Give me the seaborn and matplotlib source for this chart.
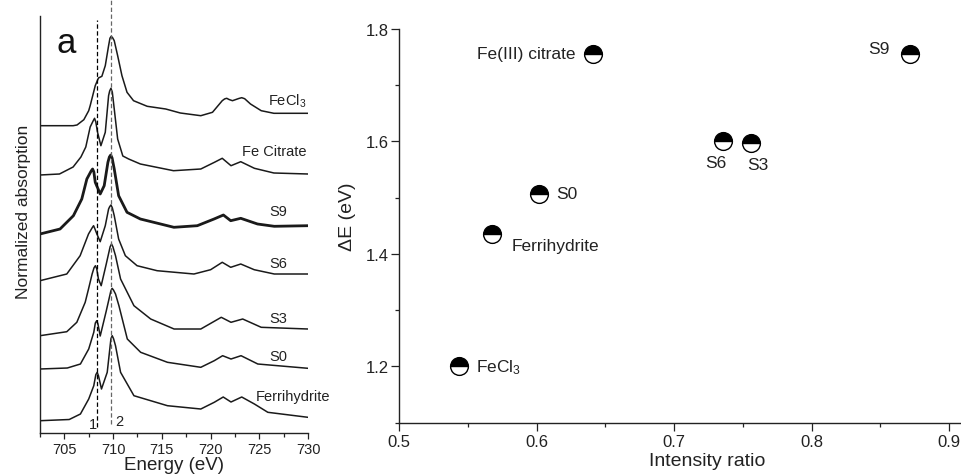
import numpy as np
import pandas as pd
import matplotlib
matplotlib.use('Agg')
import matplotlib.pyplot as plt
from matplotlib.ticker import MultipleLocator, FormatStrFormatter
import seaborn as sns

# ---------------------------------------------------------------------------
# Data
# ---------------------------------------------------------------------------

# panel a: XANES spectra (energy in eV, absorption above the pre-edge level, a.u.)
fecl3_e = [702.5, 705.9, 706.3, 707.0, 707.5, 707.65, 708.17, 708.5, 708.85, 709.2, 709.54,
           709.68, 709.81, 709.95, 710.12, 710.47, 710.91, 711.43, 712.1, 713.5, 715.4,
           716.9, 719.0, 720.2, 721.2, 721.45, 721.66, 721.9, 722.25, 722.9, 723.2,
           723.5, 724.1, 725.2, 726.5, 730.0]
fecl3_a = [0.0, 0.0, 0.007, 0.06, 0.15, 0.20, 0.40, 0.477, 0.494, 0.60, 0.80,
           0.875, 0.894, 0.88, 0.85, 0.70, 0.50, 0.334, 0.25, 0.194, 0.167,
           0.127, 0.10, 0.134, 0.25, 0.268, 0.274, 0.262, 0.25, 0.272, 0.28,
           0.27, 0.217, 0.15, 0.124, 0.124]

citrate_e = [702.5, 704.5, 705.9, 706.7, 707.2, 707.65, 707.95, 708.1, 708.23, 708.4, 708.75,
             709.2, 709.54, 709.65, 709.78, 709.92, 710.12, 710.47, 711.0, 711.6, 712.8,
             716.2, 719.0, 720.4, 721.2, 722.1, 723.1, 724.5, 726.5, 730.0]
citrate_a = [0.0, 0.01, 0.08, 0.18, 0.28, 0.48, 0.54, 0.567, 0.53, 0.43, 0.293,
             0.427, 0.793, 0.84, 0.867, 0.83, 0.66, 0.36, 0.19, 0.16, 0.11,
             0.043, 0.06, 0.127, 0.167, 0.093, 0.133, 0.067, 0.02, 0.01]

s9_e = [702.5, 704.56, 705.93, 706.79, 707.31, 707.75, 707.9, 708.03, 708.17, 708.68, 709.09,
        709.47, 709.62, 709.76, 709.9, 710.12, 710.57, 711.43, 712.8, 716.24, 718.64,
        720.36, 721.32, 722.07, 723.1, 724.82, 726.54, 730.0]
s9_a = [0.0, 0.05, 0.183, 0.35, 0.55, 0.63, 0.65, 0.62, 0.517, 0.40, 0.483,
        0.717, 0.77, 0.79, 0.76, 0.65, 0.383, 0.217, 0.15, 0.067, 0.083,
        0.15, 0.19, 0.133, 0.157, 0.10, 0.077, 0.083]

s6_e = [702.5, 705.25, 706.62, 707.48, 707.86, 708.0, 708.13, 708.34, 708.68, 709.2, 709.54,
        709.65, 709.78, 709.92, 710.12, 710.57, 711.26, 712.46, 714.52, 718.3, 720.01,
        721.2, 722.07, 723.1, 724.48, 726.54, 730.0]
s6_a = [0.0, 0.067, 0.25, 0.467, 0.53, 0.55, 0.52, 0.467, 0.39, 0.55, 0.717,
        0.74, 0.757, 0.73, 0.65, 0.417, 0.25, 0.15, 0.10, 0.067, 0.11,
        0.184, 0.134, 0.167, 0.11, 0.067, 0.067]

s3_e = [702.5, 705.25, 706.28, 707.14, 707.48, 707.85, 708.05, 708.19, 708.32, 708.5, 708.78,
        709.3, 709.7, 709.84, 709.98, 710.25, 710.77, 712.14, 713.86, 716.26, 719.0,
        721.1, 722.1, 723.3, 725.2, 730.0]
s3_a = [0.0, 0.04, 0.134, 0.334, 0.467, 0.617, 0.68, 0.70, 0.67, 0.567, 0.50,
        0.717, 0.89, 0.917, 0.89, 0.80, 0.567, 0.30, 0.167, 0.067, 0.067,
        0.184, 0.134, 0.167, 0.084, 0.067]

s0_e = [702.5, 705.3, 706.65, 707.5, 708.02, 708.18, 708.32, 708.45, 708.68, 709.3, 709.77,
        709.9, 710.04, 710.25, 710.6, 711.46, 712.83, 715.58, 719.0, 720.38, 721.24,
        722.1, 723.13, 724.85, 730.0]
s0_a = [0.0, 0.01, 0.05, 0.20, 0.367, 0.46, 0.483, 0.45, 0.33, 0.58, 0.78,
        0.807, 0.79, 0.75, 0.633, 0.30, 0.167, 0.067, 0.017, 0.083, 0.133,
        0.10, 0.133, 0.05, 0.007]

ferri_e = [702.5, 705.5, 706.65, 707.5, 708.02, 708.23, 708.37, 708.5, 708.81, 709.4, 709.78,
           709.91, 710.05, 710.25, 710.77, 712.14, 715.58, 719.0, 720.38, 721.3, 722.1,
           723.2, 724.5, 725.88, 730.0]
ferri_a = [0.0, 0.012, 0.067, 0.217, 0.35, 0.46, 0.484, 0.45, 0.317, 0.484, 0.82,
           0.85, 0.82, 0.75, 0.484, 0.25, 0.15, 0.117, 0.184, 0.237, 0.187,
           0.237, 0.167, 0.084, 0.034]

spec_names = ['FeCl$_3$', 'Fe Citrate', 'S9', 'S6', 'S3', 'S0', 'Ferrihydrite']
spec_energy = [fecl3_e, citrate_e, s9_e, s6_e, s3_e, s0_e, ferri_e]
spec_abs = [fecl3_a, citrate_a, s9_a, s6_a, s3_a, s0_a, ferri_a]
spec_offset = [3.076, 2.583, 1.993, 1.526, 0.976, 0.643, 0.126]   # vertical stacking

peak1_e = 708.35   # dashed line "1"
peak2_e = 709.8    # dashed line "2"

# panel b: energy splitting vs intensity ratio
samples = ['FeCl$_3$', 'Ferrihydrite', 'S0', 'Fe(III) citrate', 'S6', 'S3', 'S9']
intensity_ratio = [0.5434, 0.5672, 0.6017, 0.6412, 0.7356, 0.7559, 0.8717]
delta_e = [1.200, 1.435, 1.507, 1.756, 1.600, 1.597, 1.756]

# ---------------------------------------------------------------------------
# Figure
# ---------------------------------------------------------------------------
sns.set_theme(style='ticks')
plt.rcParams['font.family'] = ['Liberation Sans', 'DejaVu Sans']
plt.rcParams['mathtext.default'] = 'regular'
plt.rcParams['axes.linewidth'] = 1.0
plt.rcParams['axes.edgecolor'] = '#222222'
plt.rcParams['xtick.color'] = '#222222'
plt.rcParams['ytick.color'] = '#222222'

fig = plt.figure(figsize=(9.61, 4.77), dpi=100)
ax1 = fig.add_axes([0.0416, 0.0895, 0.2789, 0.8755])
ax2 = fig.add_axes([0.4155, 0.1117, 0.5845, 0.8254])

# --- panel a ---------------------------------------------------------------
for name, e, a, off in zip(spec_names, spec_energy, spec_abs, spec_offset):
    df = pd.DataFrame({'energy': e, 'absorption': np.array(a) + off})
    lw = 2.0 if name == 'S9' else 1.1
    sns.lineplot(data=df, x='energy', y='absorption', ax=ax1, color='#1a1a1a',
                 lw=lw, sort=False, estimator=None)

ax1.axvline(peak1_e, ymin=0.015, ymax=0.99, color='black', lw=0.9,
            dashes=(3.5, 2), clip_on=False)
ax1.axvline(peak2_e, ymin=0.022, ymax=1.04, color='#666666', lw=0.9,
            dashes=(3.5, 2), clip_on=False)
ax1.text(707.96, 0.093, '1', fontsize=10.5, ha='center', va='center', color='#222222')
ax1.text(710.67, 0.126, '2', fontsize=10.5, ha='center', va='center', color='#222222')

label_pos = [(729.85, 3.33, 'right'), (729.85, 2.823, 'right'), (727.87, 2.223, 'right'),
             (727.87, 1.703, 'right'), (727.87, 1.150, 'right'), (727.87, 0.776, 'right'),
             (724.68, 0.376, 'left')]
for name, (lx, ly, ha) in zip(spec_names, label_pos):
    ax1.text(lx, ly, name, fontsize=10.5, ha=ha, va='center', color='#222222',
             clip_on=False)

ax1.set_xlim(702.5, 730)
ax1.set_ylim(0, 4.176)
ax1.xaxis.set_major_locator(MultipleLocator(5))
ax1.xaxis.set_minor_locator(MultipleLocator(2.5))
ax1.set_yticks([])
ax1.tick_params(axis='x', which='major', length=4.3, width=0.9, labelsize=10.5, pad=2)
ax1.tick_params(axis='x', which='minor', length=2.9, width=0.9)
ax1.set_xlabel('')
ax1.set_ylabel('')
sns.despine(ax=ax1)

fig.text(56 / 961, 1 - 53 / 477, 'a', fontsize=25, ha='left', va='baseline',
         color='#111111')
fig.text(23.5 / 961, 1 - 212 / 477, 'Normalized absorption', fontsize=12.5,
         rotation=90, ha='center', va='center', color='#222222')
fig.text(173.7 / 961, 1 - 466 / 477, 'Energy (eV)', fontsize=13.5,
         ha='center', va='center', color='#222222')

# --- panel b ---------------------------------------------------------------
ax2.plot(intensity_ratio, delta_e, 'o', ms=12.8, fillstyle='top',
         markerfacecolor='black', markerfacecoloralt='white',
         markeredgecolor='black', mew=1.0, clip_on=False)

# label offsets (points) relative to each marker
label_off = [(12, 0, 'left', 'center'), (14.5, -8, 'left', 'center'),
             (12, 0.5, 'left', 'center'), (-12.5, 0, 'right', 'center'),
             (-5, -15, 'center', 'center'), (5, -15.5, 'center', 'center'),
             (-14.5, 4, 'right', 'center')]
for name, x, y, (dx, dy, ha, va) in zip(samples, intensity_ratio, delta_e, label_off):
    ax2.annotate(name, (x, y), xytext=(dx, dy), textcoords='offset points',
                 fontsize=12.5, ha=ha, va=va, color='#222222')

ax2.set_xlim(0.5, 0.9088)
ax2.set_ylim(1.1, 1.8)
ax2.xaxis.set_major_locator(MultipleLocator(0.1))
ax2.xaxis.set_minor_locator(MultipleLocator(0.05))
ax2.yaxis.set_major_locator(MultipleLocator(0.2))
ax2.yaxis.set_minor_locator(MultipleLocator(0.1))
ax2.xaxis.set_major_formatter(FormatStrFormatter('%.1f'))
ax2.yaxis.set_major_formatter(FormatStrFormatter('%.1f'))
ax2.tick_params(which='major', length=5.8, width=0.9, labelsize=12, pad=2)
ax2.tick_params(which='minor', length=3.2, width=0.9)
ax2.set_xlabel('')
ax2.set_ylabel('')
sns.despine(ax=ax2)

fig.text(347 / 961, 1 - 217 / 477, '\u0394E (eV)', fontsize=14, rotation=90,
         ha='center', va='center', color='#222222')
fig.text(707 / 961, 1 - 462 / 477, 'Intensity ratio', fontsize=14,
         ha='center', va='center', color='#222222')

fig.savefig('out.png', dpi=100)
